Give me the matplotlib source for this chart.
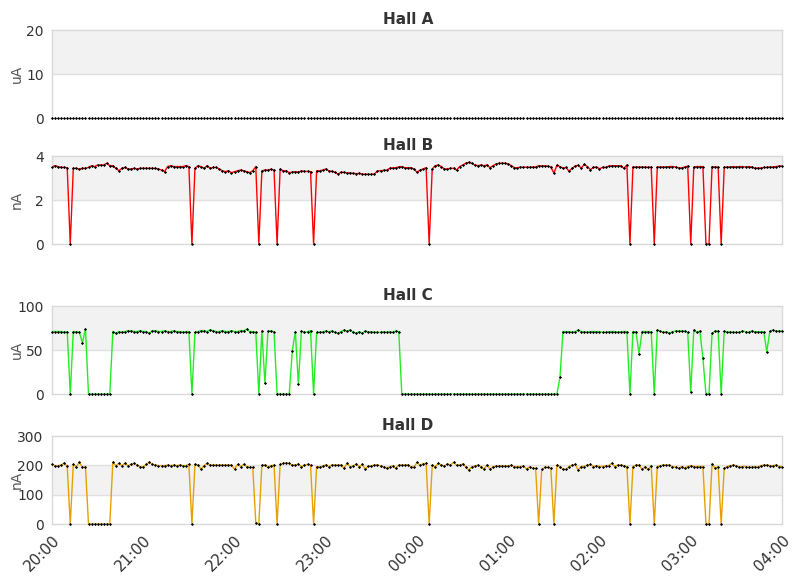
import numpy as np
import pandas as pd
import matplotlib
matplotlib.use('Agg')
import matplotlib.pyplot as plt

# muestras cada 2 minutos, de 20:00 a 04:00
inicio = '2024-01-01 20:00'
n_muestras = 241
paso = '2min'

hall_a = [0] * n_muestras  # todo en cero

hall_b = [
    3.52, 3.56, 3.52, 3.48, 3.48, 3.47, 0, 3.44, 3.44, 3.40, 3.44, 3.44, 3.48, 3.56, 3.52, 3.59, 3.59, 3.59, 3.67, 3.56,
    3.56, 3.44, 3.33, 3.44, 3.48, 3.41, 3.41, 3.44, 3.41, 3.44, 3.44, 3.44, 3.44, 3.44, 3.44, 3.41, 3.36, 3.29, 3.52, 3.56,
    3.52, 3.52, 3.52, 3.52, 3.56, 3.52, 0, 3.44, 3.56, 3.52, 3.44, 3.56, 3.44, 3.48, 3.48, 3.41, 3.33, 3.29, 3.33, 3.24,
    3.29, 3.33, 3.36, 3.33, 3.29, 3.24, 3.33, 3.52, 0, 3.33, 3.36, 3.36, 3.40, 3.36, 0, 3.40, 3.33, 3.33, 3.24, 3.27,
    3.29, 3.27, 3.32, 3.30, 3.30, 3.29, 0, 3.32, 3.33, 3.36, 3.41, 3.33, 3.30, 3.26, 3.18, 3.26, 3.26, 3.24, 3.23, 3.21,
    3.20, 3.21, 3.17, 3.17, 3.17, 3.17, 3.18, 3.32, 3.33, 3.35, 3.35, 3.44, 3.46, 3.47, 3.50, 3.52, 3.47, 3.47, 3.47, 3.41,
    3.26, 3.36, 3.41, 3.47, 0, 3.41, 3.56, 3.59, 3.52, 3.41, 3.41, 3.44, 3.44, 3.36, 3.52, 3.59, 3.67, 3.71, 3.67, 3.59,
    3.56, 3.59, 3.56, 3.59, 3.47, 3.56, 3.64, 3.67, 3.67, 3.67, 3.64, 3.56, 3.47, 3.47, 3.49, 3.49, 3.49, 3.49, 3.50, 3.50,
    3.56, 3.55, 3.55, 3.54, 3.50, 3.22, 3.58, 3.52, 3.45, 3.48, 3.30, 3.45, 3.54, 3.58, 3.45, 3.62, 3.52, 3.38, 3.48, 3.50,
    3.42, 3.48, 3.48, 3.54, 3.56, 3.56, 3.56, 3.56, 3.44, 3.59, 0, 3.50, 3.50, 3.50, 3.50, 3.50, 3.48, 3.50, 0, 3.50,
    3.50, 3.50, 3.50, 3.52, 3.52, 3.50, 3.46, 3.46, 3.50, 3.54, 0, 3.50, 3.52, 3.52, 3.52, 0, 0, 3.52, 3.50, 3.50,
    0, 3.48, 3.50, 3.50, 3.52, 3.50, 3.52, 3.52, 3.50, 3.52, 3.50, 3.45, 3.45, 3.45, 3.48, 3.48, 3.50, 3.50, 3.52, 3.54,
    3.55,
]

hall_c = [
    71, 71, 71, 71, 70, 71, 0, 71, 71, 70, 58, 74, 0, 0, 0, 0, 0, 0, 0, 0,
    71, 69, 71, 70, 71, 72, 72, 71, 71, 72, 71, 71, 69, 72, 72, 71, 71, 72, 71, 71,
    72, 71, 71, 70, 71, 71, 0, 70, 71, 72, 72, 71, 73, 72, 71, 71, 72, 71, 71, 72,
    71, 71, 72, 72, 73.5, 71, 71, 70, 0, 71.6, 12, 71.6, 71.6, 70.8, 0, 0, 0, 0, 0, 49,
    71, 11, 71.6, 70, 70.8, 72, 0, 70, 70, 70.8, 71.6, 70.8, 71.6, 70, 69, 70.8, 72.7, 71.6, 72.7, 70,
    69, 70.8, 69, 71.6, 70.8, 70.8, 70, 70, 70, 70.8, 70, 70.8, 70, 71.6, 71, 0, 0, 0, 0, 0,
    0, 0, 0, 0, 0, 0, 0, 0, 0, 0, 0, 0, 0, 0, 0, 0, 0, 0, 0, 0,
    0, 0, 0, 0, 0, 0, 0, 0, 0, 0, 0, 0, 0, 0, 0, 0, 0, 0, 0, 0,
    0, 0, 0, 0, 0, 0, 0, 19, 71, 71, 70.8, 70, 71, 72.7, 71, 70.8, 70, 71, 71, 70.8,
    71, 70, 70, 70.8, 71, 71, 70, 70.8, 71, 71, 0, 71, 70.8, 46, 71, 71, 71, 70.8, 0, 72.7,
    71.6, 70, 70.8, 69, 70.8, 71.6, 71.6, 71.6, 71.6, 70, 2, 72.7, 70, 71.6, 40.5, 0, 0, 69, 71.6, 71.6,
    0, 71.6, 70, 70.8, 70, 70, 70, 71.6, 70.8, 70, 71.6, 70.8, 70.8, 70.8, 70.8, 48, 71.6, 72.7, 71.6, 71.6,
    71.6,
]

hall_d = [
    203, 199, 199, 201, 208, 197, 0, 203, 195, 211, 193, 195, 0, 0, 0, 0, 0, 0, 0, 0,
    211, 199, 207, 199, 207, 199, 203, 207, 201, 195, 195, 203, 211, 203, 201, 199, 199, 199, 201, 199,
    201, 199, 201, 199, 199, 203, 0, 203, 201, 187, 199, 207, 201, 201, 201, 201, 201, 201, 201, 201,
    187, 203, 196, 203, 196, 193, 193, 4, 0, 201, 201, 193, 199, 201, 0, 203, 207, 209, 207, 201,
    201, 205, 195, 201, 203, 201, 0, 195, 195, 197, 202, 195, 201, 201, 201, 201, 190, 207, 195, 198,
    205, 195, 203, 187, 197, 198, 201, 202, 198, 195, 190, 195, 198, 190, 201, 201, 201, 202, 195, 193,
    210, 201, 205, 207, 0, 201, 195, 207, 201, 198, 205, 201, 210, 201, 201, 205, 195, 184, 195, 197,
    201, 195, 187, 201, 187, 195, 197, 198, 198, 198, 198, 201, 195, 195, 195, 198, 187, 195, 190, 190,
    0, 186, 193, 193, 190, 0, 201, 196, 186, 186, 196, 201, 203, 184, 196, 196, 201, 203, 196, 199,
    196, 196, 199, 199, 207, 196, 201, 201, 199, 196, 0, 196, 201, 201, 186, 196, 186, 199, 0, 196,
    199, 201, 201, 201, 196, 193, 190, 196, 190, 196, 199, 196, 196, 196, 196, 0, 0, 205, 190, 196,
    0, 190, 196, 199, 201, 199, 193, 196, 196, 193, 193, 196, 193, 199, 201, 201, 199, 199, 201, 196,
    196,
]

titulos = ['Hall A', 'Hall B', 'Hall C', 'Hall D']
unidades = ['uA', 'nA', 'uA', 'nA']
series = [hall_a, hall_b, hall_c, hall_d]
colores = ['#000000', '#ff0000', '#22ee22', '#e6a100']
yticks = [[0, 10, 20], [0, 2, 4], [0, 50, 100], [0, 100, 200, 300]]
xticks_hora = ['20:00', '21:00', '22:00', '23:00', '00:00', '01:00', '02:00', '03:00', '04:00']

tiempos = pd.date_range(inicio, periods=n_muestras, freq=paso)

W, H = 811, 578
fig = plt.figure(figsize=(W / 100, H / 100), dpi=100)

# (arriba, abajo) de cada panel en pixeles
paneles = [(30, 118), (156, 244), (306, 394), (436, 524)]
izq, der = 52, 782

gris_borde = '#d9d9d9'
for i, (arr, abj) in enumerate(paneles):
    ax = fig.add_axes([izq / W, (H - abj) / H, (der - izq) / W, (abj - arr) / H])
    ticks = yticks[i]
    # bandas alternadas
    for k in range(len(ticks) - 1):
        if k % 2 == 1:
            ax.axhspan(ticks[k], ticks[k + 1], color='#f2f2f2', zorder=0, lw=0)
    for t in ticks[1:-1]:
        ax.axhline(t, color='#e0e0e0', lw=1, zorder=1)

    y = np.array(series[i], dtype=float)
    if i > 0:
        ax.plot(tiempos, y, color=colores[i], lw=1, zorder=2)
    ax.plot(tiempos, y, ls='none', marker='D', ms=1.6, mew=0, color='black', zorder=5, clip_on=False)

    ax.set_ylim(ticks[0], ticks[-1])
    ax.set_yticks(ticks)
    ax.set_xlim(tiempos[0], tiempos[-1])
    for s in ax.spines.values():
        s.set_color(gris_borde)
        s.set_linewidth(1)
        s.set_zorder(3)
    ax.tick_params(length=0, labelsize=10, colors='#333333', pad=6)
    ax.set_ylabel(unidades[i], fontsize=10, color='#555555')
    ax.yaxis.set_label_coords((24 - izq) / (der - izq), 0.5)
    ax.set_title(titulos[i], fontsize=11, fontweight='bold', color='#333333',
                 x=(408 - izq) / (der - izq), pad=4)

    horas = pd.date_range(inicio, periods=len(xticks_hora), freq='1h')
    ax.set_xticks(horas)
    if i == 3:
        ax.set_xticklabels(xticks_hora, rotation=45, ha='right', rotation_mode='anchor', fontsize=11)
    else:
        ax.set_xticklabels([])

fig.savefig('out.png', dpi=100)
